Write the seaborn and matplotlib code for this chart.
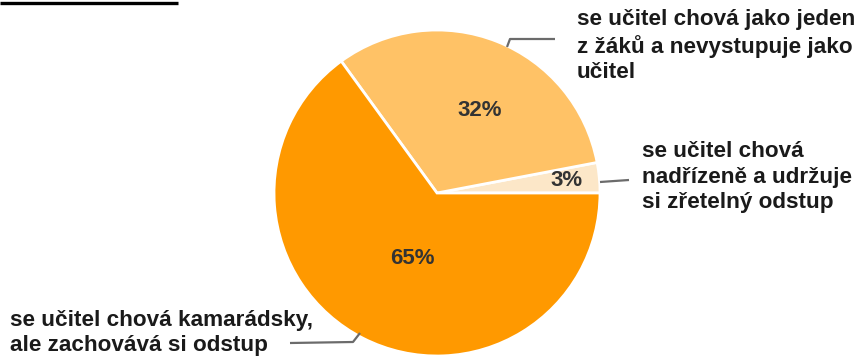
import numpy as np
import matplotlib
matplotlib.use("Agg")
import matplotlib.pyplot as plt
import seaborn as sns

# Survey answers: how the teacher behaves
answers = [
    "se učitel chová\nnadřízeně a udržuje\nsi zřetelný odstup",
    "se učitel chová jako jeden\nz žáků a nevystupuje jako\nučitel",
    "se učitel chová kamarádsky,\nale zachovává si odstup",
]
shares = [3, 32, 65]
slice_colors = ["#FCE7C8", "#FFC266", "#FF9900"]

sns.set_theme(style="white")
plt.rcParams["font.family"] = ["Liberation Sans", "DejaVu Sans"]

W, H = 858, 361
fig = plt.figure(figsize=(W / 100, H / 100), dpi=100)
ax = fig.add_axes([0, 0, 1, 1])

cx, cy, r = 437, H - 193, 163
palette = sns.color_palette(slice_colors)
wedges, _ = ax.pie(
    shares, colors=palette, startangle=0, counterclock=True,
    center=(cx, cy), radius=r, frame=True,
    wedgeprops=dict(edgecolor="white", linewidth=2),
)
ax.set_xlim(0, W)
ax.set_ylim(0, H)
ax.set_aspect("equal")
ax.axis("off")

# percentage labels placed along each slice's bisector
pct_dist = [0.80, 0.57, 0.43]
pct_shift = [0, -6, 6]
for w, v, d, s in zip(wedges, shares, pct_dist, pct_shift):
    mid = np.deg2rad((w.theta1 + w.theta2) / 2 + s)
    ax.text(cx + d * r * np.cos(mid), cy + d * r * np.sin(mid), f"{v}%",
            ha="center", va="center", fontsize=16, fontweight="bold",
            color="#333333")

lead = dict(color="#6b6b6b", lw=1.6, solid_capstyle="butt")
txt = dict(fontsize=16.2, fontweight="bold", color="#1a1a1a",
           ha="left", va="center", linespacing=1.27)

# 3 % slice
ax.plot([600, 629], [H - 182, H - 180], **lead)
ax.text(642, H - 177, answers[0], **txt)
# 32 % slice
ax.plot([507, 510, 555], [H - 47, H - 39, H - 39], **lead)
ax.text(577, H - 46, answers[1], **txt)
# 65 % slice
ax.plot([290, 353, 360], [H - 343, H - 342, H - 333], **lead)
ax.text(10, H - 333, answers[2], **txt)

# rule at the top left
ax.plot([0, 178], [H - 3, H - 3], color="black", lw=2.4, solid_capstyle="butt")

fig.savefig("out.png", dpi=100, facecolor="white")
